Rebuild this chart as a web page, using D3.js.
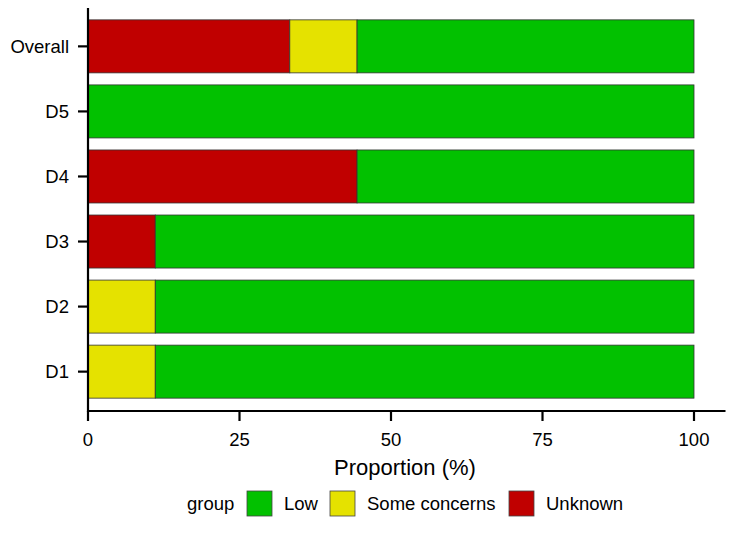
<!DOCTYPE html>
<html><head><meta charset="utf-8">
<script src="https://cdn.jsdelivr.net/npm/d3@7"></script>
<style>body{margin:0;background:#fff}svg{display:block;font-family:"Liberation Sans",Arial,sans-serif}</style>
</head><body><svg id="c" width="750" height="533"></svg>
<script>
const categories = ["Overall","D5","D4","D3","D2","D1"];
const groups = ["Unknown","Some concerns","Low"];
const unknownVals = [33.3, 0, 44.4, 11.1, 0, 0];
const concernVals = [11.1, 0, 0, 0, 11.1, 11.1];
const lowVals = [55.6, 100, 55.6, 88.9, 88.9, 88.9];
const xTicks = [0,25,50,75,100];
const legendOrder = ["Low","Some concerns","Unknown"];
const colors = {"Low":"#02C100","Some concerns":"#E5E200","Unknown":"#C00000"};

const rows = categories.map((c,i)=>({cat:c,"Unknown":unknownVals[i],"Some concerns":concernVals[i],"Low":lowVals[i]}));
const stack = d3.stack().keys(groups)(rows);

const svg = d3.select("#c");
const x = d3.scaleLinear().domain([0,100]).range([88,694]);
const y = d3.scaleBand().domain(categories).range([14,404]).paddingInner(0.185).paddingOuter(0.09);

svg.append("g").selectAll("g").data(stack).join("g")
  .attr("fill",d=>colors[d.key])
  .selectAll("rect").data(d=>d.filter(p=>p[1]-p[0]>0)).join("rect")
  .attr("x",d=>x(d[0])).attr("width",d=>x(d[1])-x(d[0]))
  .attr("y",d=>y(d.data.cat)).attr("height",y.bandwidth())
  .attr("stroke","#333").attr("stroke-width",0.8);

// x axis
const xa = svg.append("g").attr("transform","translate(0,411)");
xa.append("line").attr("x1",87).attr("x2",x(105.2)).attr("stroke","#000").attr("stroke-width",2.2);
xa.selectAll("line.t").data(xTicks).join("line").attr("class","t")
  .attr("x1",d=>x(d)).attr("x2",d=>x(d)).attr("y1",0).attr("y2",10).attr("stroke","#000").attr("stroke-width",2.2);
xa.selectAll("text").data(xTicks).join("text")
  .attr("x",d=>x(d)).attr("y",35).attr("text-anchor","middle").attr("font-size",18.5).attr("fill","#000").text(d=>d);

// y axis
const ya = svg.append("g");
ya.append("line").attr("x1",88).attr("x2",88).attr("y1",8).attr("y2",412).attr("stroke","#000").attr("stroke-width",2.2);
ya.selectAll("line.t").data(categories).join("line").attr("class","t")
  .attr("x1",78).attr("x2",88).attr("y1",d=>y(d)+y.bandwidth()/2).attr("y2",d=>y(d)+y.bandwidth()/2)
  .attr("stroke","#000").attr("stroke-width",2.2);
ya.selectAll("text").data(categories).join("text")
  .attr("x",69).attr("y",d=>y(d)+y.bandwidth()/2).attr("dy","0.36em").attr("text-anchor","end")
  .attr("font-size",18.5).attr("fill","#000").text(d=>d);

svg.append("text").attr("x",405).attr("y",475).attr("text-anchor","middle").attr("font-size",22).attr("fill","#000").text("Proportion (%)");

// legend
const lg = svg.append("g");
lg.append("text").attr("x",187).attr("y",510).attr("font-size",18.5).text("group");
const boxX = [247,330,509];
legendOrder.forEach((k,i)=>{
  lg.append("rect").attr("x",boxX[i]).attr("y",491).attr("width",25).attr("height",25)
    .attr("fill",colors[k]).attr("stroke","#444").attr("stroke-width",0.8);
  lg.append("text").attr("x",boxX[i]+37).attr("y",510).attr("font-size",18.5).text(k);
});
</script></body></html>
